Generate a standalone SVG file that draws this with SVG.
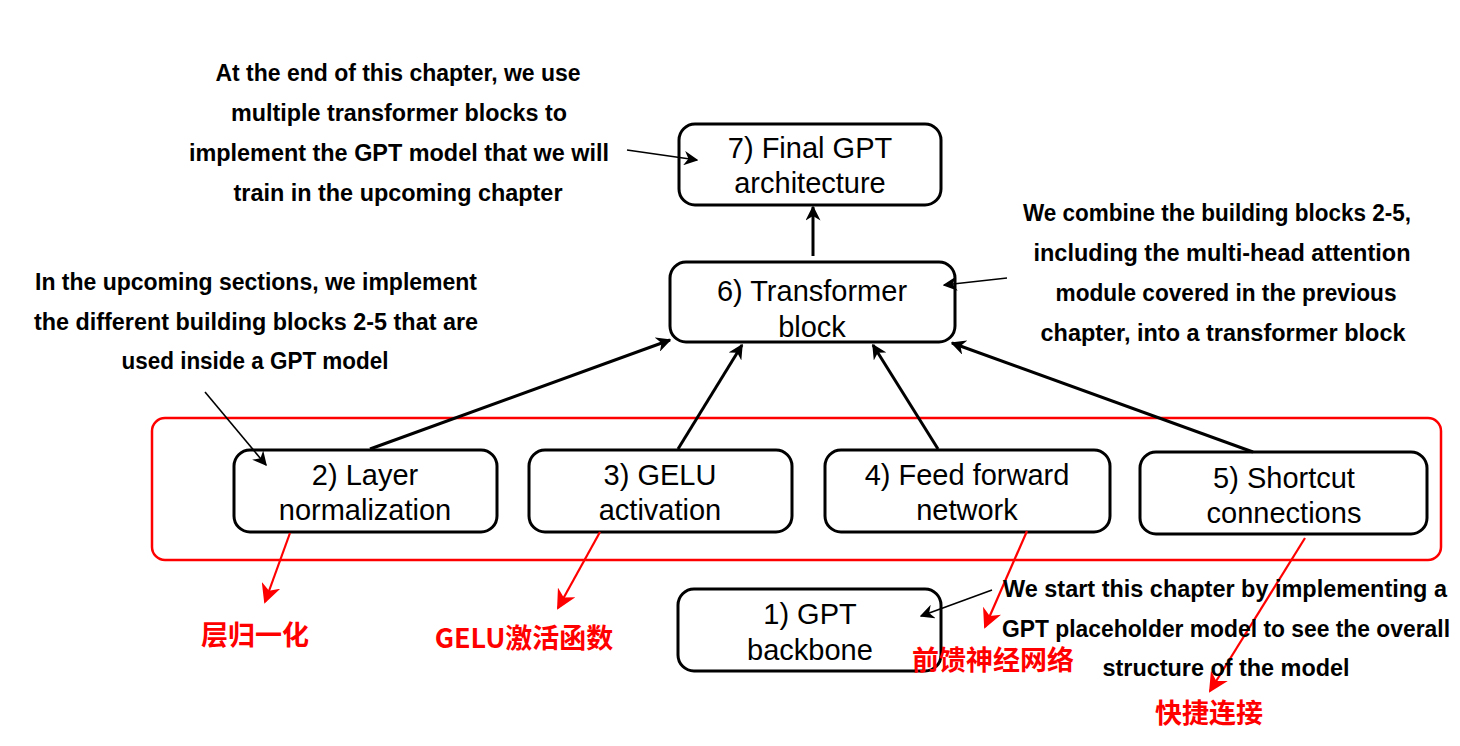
<svg xmlns="http://www.w3.org/2000/svg" width="1460" height="746" viewBox="0 0 1460 746">
<defs>
<marker id="ah" viewBox="0 0 10 10" refX="9" refY="5" markerWidth="5" markerHeight="5" orient="auto" markerUnits="strokeWidth"><path d="M0,0 L10,5 L0,10 L3,5 z" fill="#000"/></marker>
<marker id="ahs" viewBox="0 0 10 10" refX="9" refY="5" markerWidth="9" markerHeight="9" orient="auto" markerUnits="strokeWidth"><path d="M0,0 L10,5 L0,10 L3,5 z" fill="#000"/></marker>
<marker id="ahr" viewBox="0 0 10 10" refX="9" refY="5" markerWidth="9" markerHeight="9" orient="auto" markerUnits="strokeWidth"><path d="M0,0 L10,5 L0,10 L3,5 z" fill="#f00"/></marker>
</defs>
<style>
.node{fill:#fff;stroke:#000;stroke-width:3}
.nt{font-family:"Liberation Sans",Arial,sans-serif;font-size:29px;fill:#000;text-anchor:middle}
.an{font-family:"Liberation Sans",Arial,sans-serif;font-weight:bold;font-size:23px;fill:#000;text-anchor:middle}
.cn{font-family:"Noto Sans CJK SC","Liberation Sans",sans-serif;font-weight:bold;font-size:27px;fill:#f00;text-anchor:middle}
.main{stroke:#000;stroke-width:3;fill:none;marker-end:url(#ah)}
.thin{stroke:#000;stroke-width:1.6;fill:none;marker-end:url(#ahs)}
.red{stroke:#f00;stroke-width:2.2;fill:none;marker-end:url(#ahr)}
</style>
<rect width="1460" height="746" fill="#fff"/>
<rect x="152" y="418" width="1289" height="142" rx="13" fill="none" stroke="#f00" stroke-width="2.5"/>
<g id="n7"><rect class="node" x="679" y="124" width="262" height="81" rx="16"/><text class="nt" x="810" y="158">7) Final GPT</text><text class="nt" x="810" y="193">architecture</text></g>
<g id="n6"><rect class="node" x="670" y="262" width="285" height="80" rx="16"/><text class="nt" x="812" y="301">6) Transformer</text><text class="nt" x="812" y="337">block</text></g>
<g id="n2"><rect class="node" x="234" y="450" width="263" height="82" rx="16"/><text class="nt" x="365" y="485">2) Layer</text><text class="nt" x="365" y="520">normalization</text></g>
<g id="n3"><rect class="node" x="529" y="450" width="263" height="82" rx="16"/><text class="nt" x="660" y="485">3) GELU</text><text class="nt" x="660" y="520">activation</text></g>
<g id="n4"><rect class="node" x="825" y="450" width="285" height="82" rx="16"/><text class="nt" x="967" y="485">4) Feed forward</text><text class="nt" x="967" y="520">network</text></g>
<g id="n5"><rect class="node" x="1140" y="452" width="287" height="82" rx="16"/><text class="nt" x="1284" y="488">5) Shortcut</text><text class="nt" x="1284" y="523">connections</text></g>
<g id="n1"><rect class="node" x="678" y="589" width="263" height="82" rx="16"/><text class="nt" x="810" y="624">1) GPT</text><text class="nt" x="810" y="660">backbone</text></g>
<g id="connectors">
<line class="main" x1="813" y1="256" x2="813" y2="207"/>
<line class="main" x1="370" y1="449" x2="670" y2="340"/>
<line class="main" x1="678" y1="449" x2="742" y2="345"/>
<line class="main" x1="938" y1="449" x2="873" y2="345"/>
<line class="main" x1="1253" y1="452" x2="952" y2="343"/>
<line class="thin" x1="627" y1="150" x2="697" y2="160"/>
<line class="thin" x1="1007" y1="278" x2="944" y2="285"/>
<line class="thin" x1="205" y1="392" x2="266" y2="465"/>
<line class="thin" x1="992" y1="590" x2="921" y2="616"/>
<line class="red" x1="290" y1="533" x2="265" y2="602"/>
<line class="red" x1="600" y1="532" x2="558" y2="608"/>
<line class="red" x1="1027" y1="531" x2="985" y2="627"/>
<line class="red" x1="1305" y1="538" x2="1210" y2="691"/>
</g>
<g id="annotations">
<text class="an" x="398" y="81" textLength="365" lengthAdjust="spacingAndGlyphs">At the end of this chapter, we use</text>
<text class="an" x="399" y="121" textLength="336" lengthAdjust="spacingAndGlyphs">multiple transformer blocks to</text>
<text class="an" x="399" y="161" textLength="420" lengthAdjust="spacingAndGlyphs">implement the GPT model that we will</text>
<text class="an" x="398" y="201" textLength="329" lengthAdjust="spacingAndGlyphs">train in the upcoming chapter</text>
<text class="an" x="1217" y="221" textLength="388" lengthAdjust="spacingAndGlyphs">We combine the building blocks 2-5,</text>
<text class="an" x="1222" y="261" textLength="377" lengthAdjust="spacingAndGlyphs">including the multi-head attention</text>
<text class="an" x="1226" y="301" textLength="341" lengthAdjust="spacingAndGlyphs">module covered in the previous</text>
<text class="an" x="1223" y="341" textLength="365" lengthAdjust="spacingAndGlyphs">chapter, into a transformer block</text>
<text class="an" x="256" y="290" textLength="442" lengthAdjust="spacingAndGlyphs">In the upcoming sections, we implement</text>
<text class="an" x="256" y="330" textLength="444" lengthAdjust="spacingAndGlyphs">the different building blocks 2-5 that are</text>
<text class="an" x="255" y="369" textLength="267" lengthAdjust="spacingAndGlyphs">used inside a GPT model</text>
<text class="an" x="1225" y="597" textLength="444" lengthAdjust="spacingAndGlyphs">We start this chapter by implementing a</text>
<text class="an" x="1226" y="637" textLength="448" lengthAdjust="spacingAndGlyphs">GPT placeholder model to see the overall</text>
<text class="an" x="1226" y="676" textLength="247" lengthAdjust="spacingAndGlyphs">structure of the model</text>
<text class="cn" x="255" y="645">层归一化</text>
<text class="cn" x="524" y="648">GELU激活函数</text>
<text class="cn" x="993" y="670">前馈神经网络</text>
<text class="cn" x="1209" y="723">快捷连接</text>
</g>
</svg>
